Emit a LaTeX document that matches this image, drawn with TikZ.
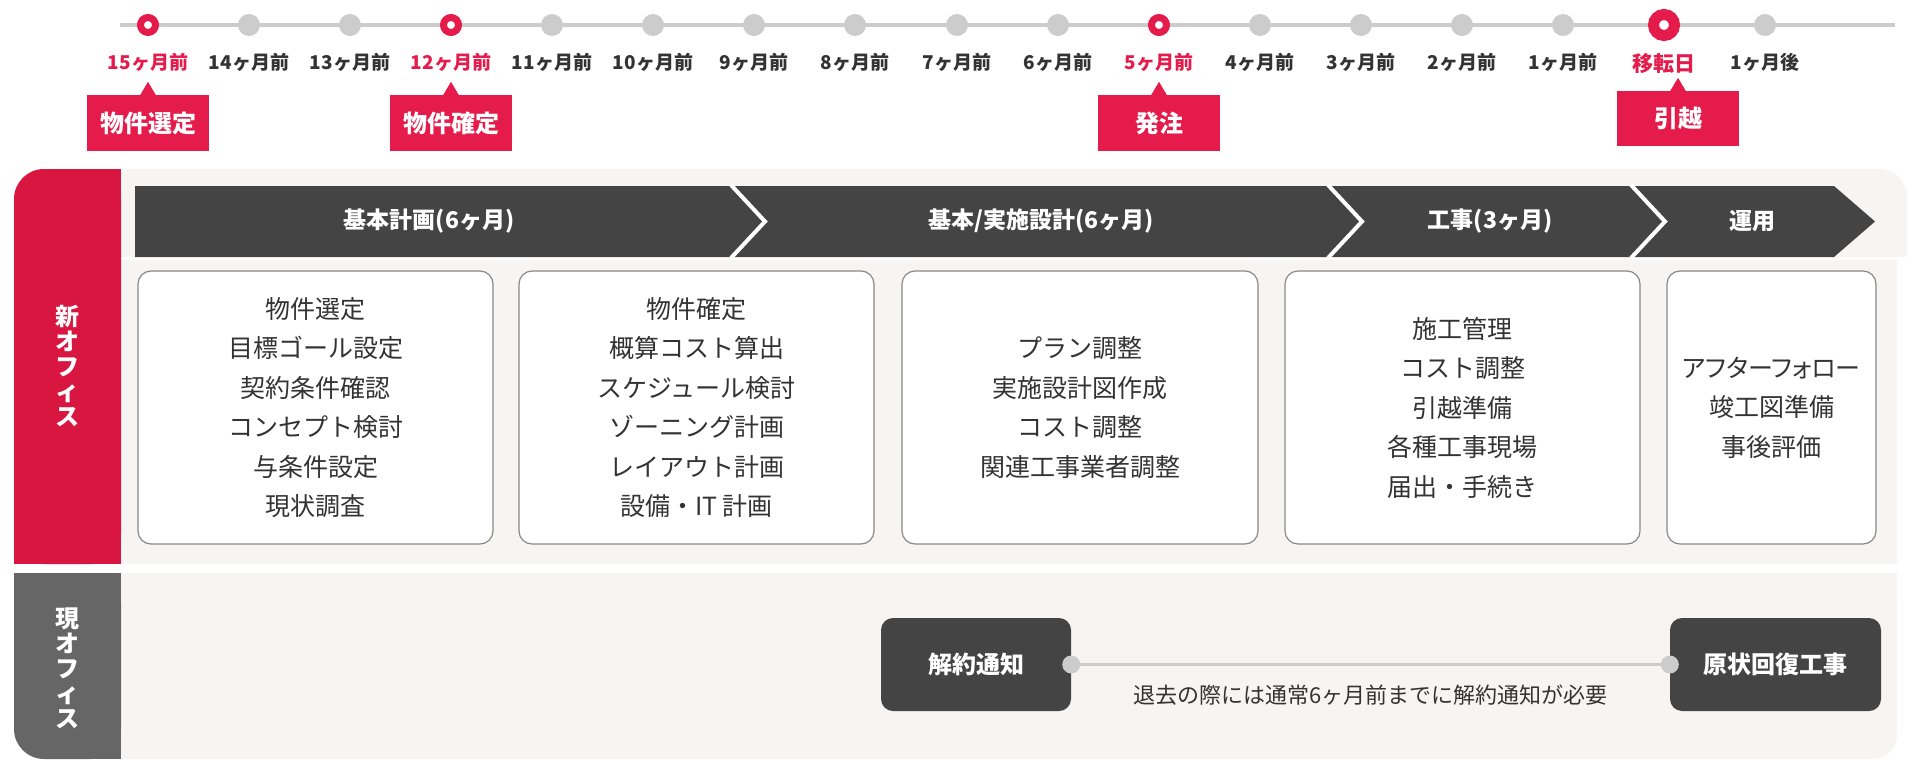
\documentclass[tikz,border=0pt]{standalone}
\usepackage{fontspec}
\setmainfont{Noto Sans CJK JP}
\newfontfamily\paltfont{Noto Sans CJK JP}[RawFeature=+palt]
\usetikzlibrary{calc,positioning}

\definecolor{crimson}{RGB}{216,22,63}
\definecolor{callred}{RGB}{228,27,75}
\definecolor{darkbar}{RGB}{68,68,68}
\definecolor{oldgray}{RGB}{102,102,102}
\definecolor{panelbg}{RGB}{246,245,243}
\definecolor{dotgray}{RGB}{204,204,204}
\definecolor{txtgray}{RGB}{51,51,51}
\definecolor{boxedge}{RGB}{136,136,136}

\newcommand{\fsz}[2]{\fontsize{#1}{#2}\selectfont}

\tikzset{
  month/.style={font=\fsz{19}{23}\bfseries, text=txtgray},
  redmonth/.style={month, text=callred},
  dot/.style={circle, fill=dotgray, inner sep=0pt, minimum size=22pt},
  reddot/.style={circle, fill=white, draw=callred, line width=7pt, inner sep=0pt, minimum size=15pt},
  bigdot/.style={reddot, line width=11pt, minimum size=21pt},
  callout/.style={fill=callred, text=white, font=\fsz{24}{28}\bfseries, minimum width=122pt, minimum height=56pt, inner sep=0pt},
  phase/.style={text=white, font=\fsz{23}{27}\bfseries},
  taskbox/.style={draw=boxedge, line width=1.2pt, fill=white, rounded corners=13pt, align=center, text=txtgray, font=\fsz{25}{39.5}, minimum height=273pt, inner sep=0pt},
  darkbox/.style={fill=darkbar, rounded corners=12pt, text=white, font=\fsz{24}{28}\bfseries, minimum height=93pt, inner sep=0pt},
  sidelbl/.style={text=white, font=\fsz{24}{25}\bfseries, align=center, inner sep=0pt},
}

\begin{document}
\begin{tikzpicture}[x=1pt,y=-1pt]
  \useasboundingbox (0,0) rectangle (1920,771);
  % light panels
  \fill[panelbg,rounded corners=28pt] (100,169) rectangle (1907,257); % header band
  \fill[panelbg] (100,200) rectangle (1907,257);
  \fill[panelbg] (121,260) rectangle (1897,564); % task area
  \fill[panelbg,rounded corners=24pt] (100,573) rectangle (1897,759); % current office band
  \fill[panelbg] (100,573) rectangle (1897,700);
  % side tabs
  \fill[crimson,rounded corners=30pt] (14,169) rectangle (121,564);
  \fill[crimson] (60,169) rectangle (121,564);
  \fill[crimson] (14,250) rectangle (121,564);
  \fill[oldgray,rounded corners=30pt] (14,573) rectangle (121,759);
  \fill[oldgray] (14,573) rectangle (121,700);
  \fill[oldgray] (60,573) rectangle (121,759);
  \node[sidelbl] (newoffice) at (67,366) {新\\オ\\フ\\ィ\\ス};
  \node[sidelbl] (oldoffice) at (67,668) {現\\オ\\フ\\ィ\\ス};

  % timeline
  \draw[dotgray,line width=4pt] (120,25) -- (1895,25);
  \node[reddot] (d15) at (148,25) {};
  \node[dot] (d14) at (249,25) {};
  \node[dot] (d13) at (350,25) {};
  \node[reddot] (d12) at (451,25) {};
  \node[dot] (d11) at (552,25) {};
  \node[dot] (d10) at (653,25) {};
  \node[dot] (d9) at (754,25) {};
  \node[dot] (d8) at (855,25) {};
  \node[dot] (d7) at (957,25) {};
  \node[dot] (d6) at (1058,25) {};
  \node[reddot] (d5) at (1159,25) {};
  \node[dot] (d4) at (1260,25) {};
  \node[dot] (d3) at (1361,25) {};
  \node[dot] (d2) at (1462,25) {};
  \node[dot] (d1) at (1563,25) {};
  \node[bigdot] (dmove) at (1664,25) {};
  \node[dot] (dafter) at (1765,25) {};

  \node[redmonth] (l15) at (148,62) {15ヶ月前};
  \node[month] (l14) at (249,62) {14ヶ月前};
  \node[month] (l13) at (350,62) {13ヶ月前};
  \node[redmonth] (l12) at (451,62) {12ヶ月前};
  \node[month] (l11) at (552,62) {11ヶ月前};
  \node[month] (l10) at (653,62) {10ヶ月前};
  \node[month] (l9) at (754,62) {9ヶ月前};
  \node[month] (l8) at (855,62) {8ヶ月前};
  \node[month] (l7) at (957,62) {7ヶ月前};
  \node[month] (l6) at (1058,62) {6ヶ月前};
  \node[redmonth] (l5) at (1159,62) {5ヶ月前};
  \node[month] (l4) at (1260,62) {4ヶ月前};
  \node[month] (l3) at (1361,62) {3ヶ月前};
  \node[month] (l2) at (1462,62) {2ヶ月前};
  \node[month] (l1) at (1563,62) {1ヶ月前};
  \node[redmonth,font=\fsz{21}{25}\bfseries] (lmove) at (1664,64) {移転日};
  \node[month] (lafter) at (1765,62) {1ヶ月後};

  % milestones
  \node[callout] (select) at (148,123) {物件選定};
  \node[callout] (fix) at (451,123) {物件確定};
  \node[callout] (order) at (1159,123) {発注};
  \node[callout,minimum height=55pt] (move) at (1678,118.5) {引越};
  \foreach \c in {select,fix,order,move}
    \fill[callred] ($(\c.north)+(-8,0.5)$) -- ++(8,-13.5) -- ++(8,13.5) -- cycle;

  % phase arrow
  \fill[darkbar] (135,186) -- (1834,186) -- (1875,221.5) -- (1834,257) -- (135,257) -- cycle;
  \foreach \b in {731,1328,1631}
    \draw[white,line width=4pt] (\b,185) -- (\b+34,221.5) -- (\b,258);
  \node[phase] (plan) at (429,221.5) {基本計画(6ヶ月)};
  \node[phase] (design) at (1041,221.5) {基本/実施設計(6ヶ月)};
  \node[phase] (works) at (1490,221.5) {工事(3ヶ月)};
  \node[phase] (ops) at (1752,221.5) {運用};

  % tasks
  \node[taskbox,minimum width=355pt] (t1) at (315.5,407.5) {物件選定\\目標ゴール設定\\契約条件確認\\コンセプト検討\\与条件設定\\現状調査};
  \node[taskbox,minimum width=355pt] (t2) at (696.5,407.5) {物件確定\\概算コスト算出\\スケジュール検討\\ゾーニング計画\\レイアウト計画\\設備・IT 計画};
  \node[taskbox,minimum width=356pt] (t3) at (1080,407.5) {プラン調整\\実施設計図作成\\コスト調整\\関連工事業者調整};
  \node[taskbox,minimum width=355pt] (t4) at (1462.5,407.5) {施工管理\\コスト調整\\引越準備\\各種工事現場\\届出・手続き};
  \node[taskbox,minimum width=209pt] (t5) at (1771.5,407.5) {{\paltfont アフターフォロー}\\竣工図準備\\事後評価};

  % current office
  \node[darkbox,minimum width=190pt] (notice) at (976,664.5) {解約通知};
  \node[darkbox,minimum width=211pt] (restore) at (1775.5,664.5) {原状回復工事};
  \draw[dotgray,line width=3pt] (notice.east) -- node[below=19pt,inner sep=0pt,font=\fsz{22}{26},text=txtgray] (notetext) {退去の際には通常6ヶ月前までに解約通知が必要} (restore.west);
  \fill[dotgray] (notice.east) circle[radius=9pt];
  \fill[dotgray] (restore.west) circle[radius=9pt];
\end{tikzpicture}
\end{document}
